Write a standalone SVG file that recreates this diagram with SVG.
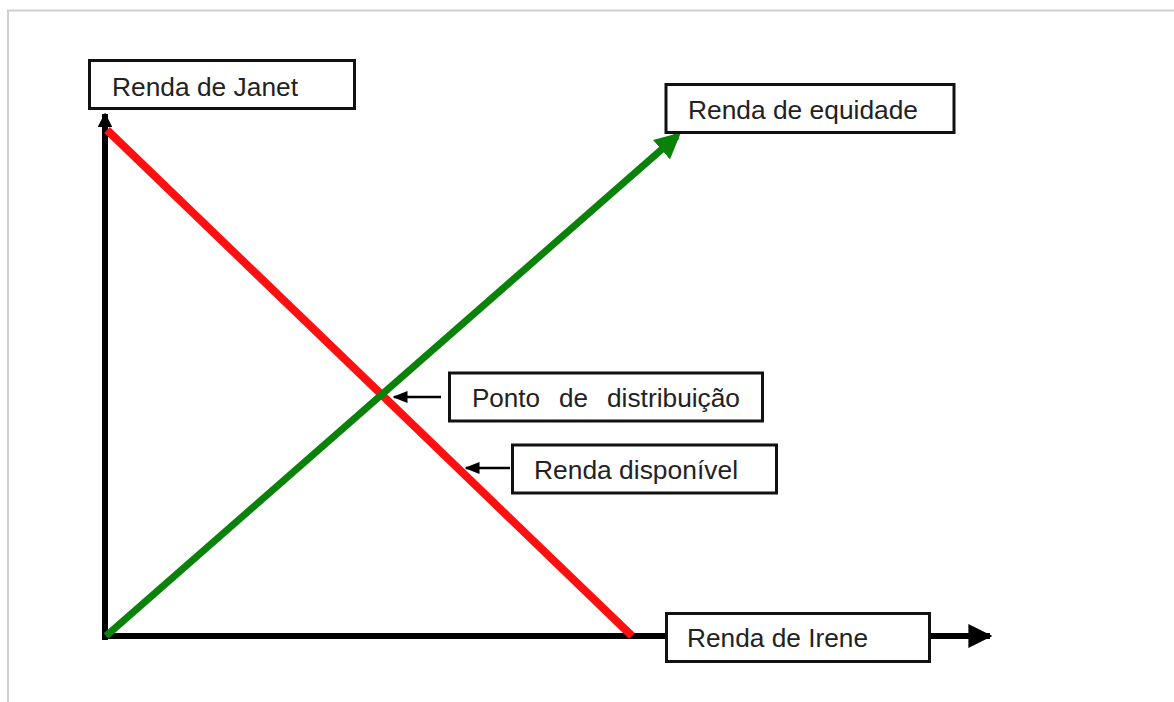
<svg xmlns="http://www.w3.org/2000/svg" width="1174" height="702" viewBox="0 0 1174 702">
<style>
.box{fill:#fff;stroke:#111;stroke-width:3}
.lbl{font-family:"Liberation Sans",Arial,sans-serif;font-size:26px;fill:#222}
.axis{stroke:#000;stroke-width:6;fill:none}
.ptr{stroke:#000;stroke-width:2.5;fill:none}
</style>
<defs>
<marker id="ah" viewBox="0 0 10 10" refX="9" refY="5" markerWidth="4" markerHeight="4" orient="auto" markerUnits="strokeWidth"><path d="M0,0L10,5L0,10z" fill="#000"/></marker>
<marker id="ahy" viewBox="0 0 10 10" refX="9" refY="5" markerWidth="2.4" markerHeight="2.4" orient="auto" markerUnits="strokeWidth"><path d="M0,0L10,5L0,10z" fill="#000"/></marker>
<marker id="ahs" viewBox="0 0 10 10" refX="9" refY="5" markerWidth="6" markerHeight="6" orient="auto" markerUnits="strokeWidth"><path d="M0,1L10,5L0,9z" fill="#000"/></marker>
<marker id="ahg" viewBox="0 0 10 10" refX="8" refY="5" markerWidth="3.7" markerHeight="3.7" orient="auto" markerUnits="strokeWidth"><path d="M0,0L10,5L0,10z" fill="#0a820a"/></marker>
</defs>
<rect x="0" y="0" width="1174" height="702" fill="#fff"/>
<path d="M8,702V10.5H1174" fill="none" stroke="#cfcfcf" stroke-width="2"/>
<g id="connectors">
<path class="axis" d="M105,640V114" marker-end="url(#ahy)" stroke-width="5"/>
<path class="axis" d="M102,636H990" marker-end="url(#ah)"/>
<path d="M107,130L632,636" stroke="#ff1010" stroke-width="8" fill="none"/>
<path d="M106,636L677,136" stroke="#0a820a" stroke-width="7" fill="none" marker-end="url(#ahg)"/>
<path class="ptr" d="M441,397H394" marker-end="url(#ahs)"/>
<path class="ptr" d="M510,468H466" marker-end="url(#ahs)"/>
</g>
<g id="janet"><rect class="box" x="89.5" y="60.5" width="265" height="48"/><text class="lbl" x="112" y="96" textLength="186" lengthAdjust="spacingAndGlyphs">Renda de Janet</text></g>
<g id="equidade"><rect class="box" x="666" y="84.5" width="288" height="48"/><text class="lbl" x="688" y="119" textLength="230" lengthAdjust="spacingAndGlyphs">Renda de equidade</text></g>
<g id="ponto"><rect class="box" x="449.5" y="373" width="313" height="48"/><text class="lbl" y="407"><tspan x="472" textLength="68" lengthAdjust="spacingAndGlyphs">Ponto</tspan><tspan x="559" textLength="29" lengthAdjust="spacingAndGlyphs">de</tspan><tspan x="607" textLength="133" lengthAdjust="spacingAndGlyphs">distribuição</tspan></text></g>
<g id="disponivel"><rect class="box" x="512.5" y="445" width="264" height="48"/><text class="lbl" x="534" y="479" textLength="204" lengthAdjust="spacingAndGlyphs">Renda disponível</text></g>
<g id="irene"><rect class="box" x="666.5" y="613.5" width="263" height="48"/><text class="lbl" x="687" y="647" textLength="181" lengthAdjust="spacingAndGlyphs">Renda de Irene</text></g>
</svg>
